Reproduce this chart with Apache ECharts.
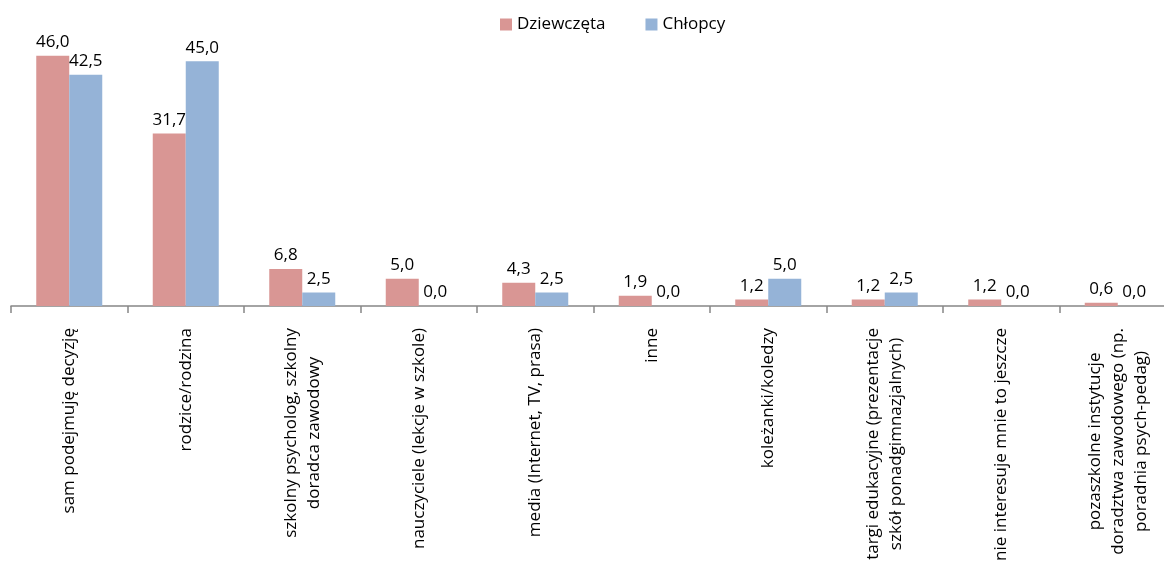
<!DOCTYPE html>
<html>
<head>
<meta charset="utf-8">
<script src="https://cdn.jsdelivr.net/npm/echarts@6/dist/echarts.min.js"></script>
<style>
html,body{margin:0;padding:0;background:#fff;overflow:hidden;}
#chart{width:1176px;height:564px;}
</style>
</head>
<body>
<div id="chart"></div>
<script>
var categories = [
  'sam podejmuję decyzję',
  'rodzice/rodzina',
  'szkolny psycholog, szkolny\ndoradca zawodowy',
  'nauczyciele (lekcje w szkole)',
  'media (Internet, TV, prasa)',
  'inne',
  'koleżanki/koledzy',
  'targi edukacyjne (prezentacje\nszkół ponadgimnazjalnych)',
  'nie interesuje mnie to jeszcze',
  'pozaszkolne instytucje\ndoradztwa zawodowego (np.\nporadnia psych-pedag)'
];
var seriesNames = ['Dziewczęta', 'Chłopcy'];
var girls = [46.0, 31.7, 6.8, 5.0, 4.3, 1.9, 1.2, 1.2, 1.2, 0.6];
var boys = [42.5, 45.0, 2.5, 0.0, 2.5, 0.0, 5.0, 2.5, 0.0, 0.0];

var FONT = 'Open Sans';
var FS = 17;
var chart = echarts.init(document.getElementById('chart'), null, {renderer: 'canvas'});
function fmt(p) { return p.value.toFixed(1).replace('.', ','); }
var labelStyle = {
  show: true, position: 'top', distance: 5, formatter: fmt,
  fontFamily: FONT, fontSize: FS, color: '#000'
};
chart.setOption({
  animation: false,
  backgroundColor: '#ffffff',
  legend: {
    data: seriesNames,
    left: 495, top: 11,
    itemWidth: 12, itemHeight: 12, itemGap: 40,
    icon: 'rect',
    textStyle: {fontFamily: FONT, fontSize: FS, color: '#000'}
  },
  grid: {left: 11, right: 0, top: 34, bottom: 254.5, containLabel: false},
  xAxis: {
    type: 'category',
    data: categories,
    axisLine: {lineStyle: {color: '#868686', width: 1.5}},
    axisTick: {show: true, length: 7, lineStyle: {color: '#868686', width: 1.5}},
    axisLabel: {
      interval: 0, rotate: 90, margin: 22,
      fontFamily: FONT, fontSize: FS, color: '#000',
      formatter: function (v) {
        return v.split('\n').map(function (l) { return '{c|' + l + '}'; }).join('\n');
      },
      rich: {c: {align: 'center', fontFamily: FONT, fontSize: FS, lineHeight: 23, color: '#000'}}
    }
  },
  yAxis: {
    type: 'value', min: 0, max: 50, show: false,
    splitLine: {show: false}
  },
  series: [
    {
      name: seriesNames[0], type: 'bar', data: girls,
      barWidth: 33, barGap: '0%',
      itemStyle: {color: '#D99694'},
      label: labelStyle
    },
    {
      name: seriesNames[1], type: 'bar', data: boys,
      barWidth: 33, barGap: '0%',
      itemStyle: {color: '#95B3D7'},
      label: labelStyle
    }
  ]
});
</script>
</body>
</html>
